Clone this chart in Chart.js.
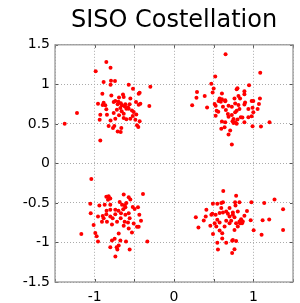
<!DOCTYPE html>
<html>
<head>
<meta charset="utf-8">
<script src="https://cdn.jsdelivr.net/npm/chart.js@4/dist/chart.umd.min.js"></script>
<style>
html,body{margin:0;padding:0;background:#fff;}
#wrap{width:300px;height:303px;}
</style>
</head>
<body>
<div id="wrap"><canvas id="c" width="300" height="303"></canvas></div>
<script>
const titleText = "SISO Costellation";
const xTickLabels = ["-1", "0", "1"];
const yTickLabels = ["-1.5", "-1", "-0.5", "0", "0.5", "1", "1.5"];

// received symbols, quadrant (-,+)
const clusterTL = [
[-0.853,1.283],[-0.80,1.21],[-0.987,1.165],[-0.887,1.03],[-0.80,0.996],[-0.794,1.046],[-0.744,1.042],
[-0.571,0.996],[-0.517,0.945],[-0.298,0.97],[-0.433,0.895],[-0.445,0.88],[-0.903,0.88],[-0.79,0.86],
[-0.643,0.87],[-0.634,0.84],[-0.693,0.835],[-0.55,0.82],[-0.74,0.79],[-0.76,0.776],[-0.958,0.755],
[-0.887,0.768],[-0.866,0.734],[-0.479,0.776],[-0.424,0.755],[-0.445,0.743],[-0.311,0.726],[-0.71,0.747],
[-0.655,0.734],[-0.613,0.747],[-0.559,0.747],[-0.676,0.70],[-0.60,0.69],[-0.571,0.69],[-0.53,0.67],
[-0.508,0.65],[-0.853,0.684],[-0.76,0.637],[-0.693,0.608],[-0.634,0.629],[-0.475,0.62],[-0.929,0.616],
[-0.845,0.616],[-1.223,0.637],[-1.378,0.502],[-0.937,0.553],[-0.80,0.544],[-0.74,0.565],[-0.634,0.574],
[-0.60,0.557],[-0.55,0.565],[-0.487,0.553],[-0.433,0.532],[-0.824,0.473],[-0.769,0.447],[-0.752,0.473],
[-0.71,0.405],[-0.664,0.447],[-0.672,0.397],[-0.466,0.481],[-0.45,0.46],[-0.929,0.291],[-0.70,0.78],
[-0.67,0.76],[-0.62,0.72],[-0.58,0.71],[-0.72,0.68],[-0.66,0.66],[-0.90,0.74],[-0.52,0.60]
];
// quadrant (+,+)
const clusterTR = [
[0.65,1.38],[1.087,1.146],[0.52,1.10],[0.47,1.008],[0.50,0.946],[0.29,0.904],[0.283,0.829],[0.387,0.854],
[0.229,0.737],[0.417,0.708],[0.487,0.896],[0.604,0.883],[0.575,0.82],[0.604,0.81],[0.646,0.80],[0.5625,0.79],
[0.79,0.9375],[0.80,0.95],[0.8875,0.9125],[0.8875,0.875],[0.946,0.9875],[0.7625,0.82],[0.8125,0.854],
[0.833,0.82],[0.979,0.79],[1.0,0.79],[1.083,0.82],[1.071,0.75],[1.054,0.6875],[0.896,0.77],[0.8875,0.746],
[0.9375,0.6875],[0.99,0.704],[1.0,0.646],[0.979,0.596],[0.5125,0.75],[0.525,0.729],[0.5375,0.667],
[0.525,0.604],[0.558,0.654],[0.617,0.717],[0.654,0.675],[0.679,0.625],[0.6875,0.59],[0.646,0.52],
[0.604,0.529],[0.596,0.4375],[0.6375,0.458],[0.7083,0.417],[0.6875,0.367],[0.729,0.2375],[0.75,0.5625],
[0.771,0.52],[0.79,0.5],[0.80,0.554],[0.75,0.5125],[0.7375,0.533],[0.842,0.583],[0.8625,0.579],
[0.8875,0.52],[0.9375,0.583],[0.825,0.6875],[0.79,0.667],[0.8125,0.7375],[0.771,0.758],[0.99,0.47],
[1.096,0.467],[1.204,0.52],[0.59,0.779],[0.646,0.7875],[0.6875,0.729],[0.729,0.717],[0.729,0.6125],[0.771,0.646]
];
// quadrant (-,-)
const clusterBL = [
[-1.042,-0.198],[-0.391,-0.388],[-1.055,-0.509],[-1.05,-0.629],[-1.013,-0.78],[-1.168,-0.892],[-0.992,-0.879],
[-0.975,-0.922],[-0.958,-0.987],[-0.853,-0.422],[-0.824,-0.414],[-0.803,-0.444],[-0.832,-0.461],[-0.874,-0.522],
[-0.941,-0.534],[-0.803,-0.522],[-0.803,-0.586],[-0.685,-0.487],[-0.655,-0.522],[-0.622,-0.53],[-0.634,-0.392],
[-0.571,-0.427],[-0.55,-0.457],[-0.613,-0.556],[-0.668,-0.629],[-0.74,-0.642],[-0.718,-0.737],[-0.803,-0.672],
[-0.782,-0.772],[-0.853,-0.642],[-0.899,-0.664],[-0.887,-0.694],[-0.958,-0.672],[-0.908,-0.737],[-0.845,-0.737],
[-0.613,-0.651],[-0.571,-0.629],[-0.559,-0.694],[-0.508,-0.759],[-0.466,-0.802],[-0.445,-0.802],[-0.416,-0.724],
[-0.437,-0.651],[-0.454,-0.556],[-0.496,-0.578],[-0.53,-0.875],[-0.634,-0.789],[-0.697,-0.888],[-0.748,-0.953],
[-0.782,-0.974],[-0.676,-0.974],[-0.697,-1.039],[-0.723,-1.06],[-0.714,-1.09],[-0.803,-1.06],[-0.605,-0.987],
[-0.559,-1.09],[-0.739,-1.177],[-0.336,-0.987],[-0.58,-0.746],[-0.622,-0.737],[-0.672,-0.694],[-0.773,-0.694],
[-0.74,-0.586],[-0.571,-0.823],[-0.60,-0.50],[-0.52,-0.55],[-0.70,-0.60],[-0.85,-0.60],[-0.64,-0.58]
];
// quadrant (+,-)
const clusterBR = [
[0.621,-0.35],[0.783,-0.41],[0.49,-0.51],[0.546,-0.51],[0.596,-0.5],[0.617,-0.49],[0.77,-0.49],[0.825,-0.49],
[0.975,-0.49],[1.1375,-0.5],[1.267,-0.457],[1.375,-0.581],[1.375,-0.842],[1.117,-0.718],[1.2,-0.709],
[1.104,-0.902],[1.004,-0.846],[0.967,-0.718],[0.92,-0.603],[0.8875,-0.662],[0.846,-0.705],[0.825,-0.735],
[0.775,-0.534],[0.658,-0.607],[0.679,-0.637],[0.742,-0.62],[0.7,-0.671],[0.721,-0.726],[0.783,-0.756],
[0.804,-0.799],[0.7625,-0.842],[0.742,-0.97],[0.733,-0.979],[0.783,-0.983],[0.7625,-1.085],[0.733,-1.132],
[0.658,-1.004],[0.608,-0.949],[0.546,-1.004],[0.554,-1.09],[0.4917,-0.893],[0.533,-0.799],[0.5125,-0.756],
[0.546,-0.714],[0.575,-0.748],[0.608,-0.885],[0.6375,-0.799],[0.483,-0.637],[0.525,-0.65],[0.471,-0.65],
[0.4,-0.671],[0.408,-0.585],[0.375,-0.722],[0.275,-0.68],[0.308,-0.812],[0.458,-0.79],[0.575,-0.85],
[0.867,-0.735],[0.833,-0.756],[0.7,-0.756],[0.658,-0.726],[0.617,-0.62],[0.575,-0.628],[0.7,-0.564],
[0.742,-0.65],[0.7625,-0.68],[0.596,-0.564],[0.804,-0.607],[0.858,-0.756]
];

const allPoints = [].concat(clusterTL, clusterTR, clusterBL, clusterBR).map(p => ({x: p[0], y: p[1]}));

const framePlugin = {
  id: 'frame',
  afterDraw(chart) {
    const {ctx, chartArea: a, scales} = chart;
    ctx.save();
    ctx.strokeStyle = '#555';
    ctx.lineWidth = 1;
    ctx.beginPath();
    scales.x.ticks.forEach(t => {
      const px = Math.round(scales.x.getPixelForValue(t.value)) + 0.5;
      ctx.moveTo(px, a.top); ctx.lineTo(px, a.top + 3);
      ctx.moveTo(px, a.bottom); ctx.lineTo(px, a.bottom - 3);
    });
    scales.y.ticks.forEach(t => {
      const py = Math.round(scales.y.getPixelForValue(t.value)) + 0.5;
      ctx.moveTo(a.left, py); ctx.lineTo(a.left + 3, py);
      ctx.moveTo(a.right, py); ctx.lineTo(a.right - 3, py);
    });
    ctx.stroke();
    ctx.strokeStyle = '#9a9a9a';
    ctx.lineWidth = 1.3;
    ctx.strokeRect(a.left, a.top, a.right - a.left, a.bottom - a.top);
    ctx.restore();
  }
};

new Chart(document.getElementById('c'), {
  type: 'scatter',
  data: {
    datasets: [{
      data: allPoints,
      backgroundColor: '#ff0000',
      borderColor: '#ff0000',
      pointRadius: 2,
      borderWidth: 0
    }]
  },
  options: {
    responsive: false,
    animation: false,
    devicePixelRatio: 1,
    layout: {padding: {left: 0, right: 7, top: 0, bottom: 0}},
    plugins: {
      legend: {display: false},
      tooltip: {enabled: false},
      title: {
        display: true,
        fullSize: false,
        text: titleText,
        color: '#000',
        font: {family: 'DejaVu Sans', size: 24, weight: 'normal'},
        padding: {top: 6, bottom: 10}
      }
    },
    scales: {
      x: {
        type: 'linear',
        min: -1.5, max: 1.5,
        afterFit(s) { s.height = 21; },
        grid: {color: '#aaa', lineWidth: 1, drawTicks: false},
        border: {display: false, dash: [1, 2]},
        ticks: {
          stepSize: 0.5,
          padding: 7,
          color: '#000',
          font: {family: 'DejaVu Sans', size: 14},
          callback: (v) => {
            const i = xTickLabels.indexOf(String(v));
            return i >= 0 ? xTickLabels[i] : '';
          }
        }
      },
      y: {
        type: 'linear',
        min: -1.5, max: 1.5,
        afterFit(s) { s.width = 55; },
        grid: {color: '#aaa', lineWidth: 1, drawTicks: false},
        border: {display: false, dash: [1, 2]},
        ticks: {
          stepSize: 0.5,
          padding: 5,
          color: '#000',
          font: {family: 'DejaVu Sans', size: 14},
          callback: (v) => {
            const i = yTickLabels.indexOf(String(v));
            return i >= 0 ? yTickLabels[i] : '';
          }
        }
      }
    }
  },
  plugins: [framePlugin]
});
</script>
</body>
</html>
